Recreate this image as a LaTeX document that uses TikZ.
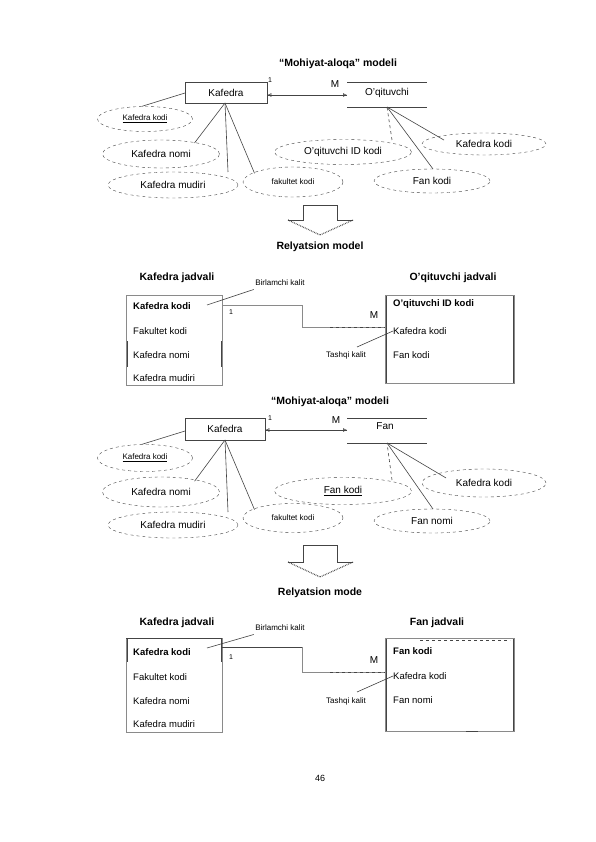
\documentclass[tikz,border=0pt]{standalone}
\usepackage{fontspec}
\setmainfont{Liberation Sans}
\usetikzlibrary{arrows.meta,shapes.geometric}
\definecolor{ln}{HTML}{444444}
\definecolor{tb}{HTML}{8A8A8A}
\tikzset{
  attr/.style={ellipse,draw=ln,dashed,inner sep=0pt,font=\fontsize{10}{12}\selectfont},
  small/.style={font=\fontsize{8}{10}\selectfont},
  lnk/.style={draw=ln,line width=0.6pt},
  title/.style={font=\bfseries\fontsize{10.5}{12}\selectfont},
  row/.style={anchor=west,inner sep=0pt,font=\fontsize{9.5}{11}\selectfont},
  tbox/.style={draw=tb,line width=0.6pt},
  ent/.style={draw=ln,line width=0.7pt,minimum width=82pt,minimum height=21pt,inner sep=0pt,font=\fontsize{10}{12}\selectfont},
  tip/.style={-{Latex[open,length=4pt,width=4pt]}},
  barrow/.style={draw=ln,line width=0.7pt},
}
\begin{document}
\begin{tikzpicture}[x=1pt,y=-1pt]
\useasboundingbox (0,0) rectangle (595,842);
\fill[white] (0,0) rectangle (595,842);

% ---------- Section 1 ----------
\node[title] (t1) at (338,64) {“Mohiyat-aloqa” modeli};
\node[ent] (kaf1) at (226,92.5) {Kafedra};
\node[inner sep=0pt,font=\fontsize{10}{12}\selectfont] (oq1) at (387,93) {O’qituvchi};
\draw[lnk] (347,82) -- (427,82) (347,107) -- (427,107);
\coordinate (oq1b) at (387,107);
\coordinate (oq1l) at (347,95);
\coordinate (kaf1b) at (225,103);
\coordinate (kaf1l) at (185,93);
\draw[lnk,tip] (oq1l) -- (kaf1.east|-oq1l);
\draw[lnk,tip] (kaf1.east|-oq1l) -- (oq1l);
\node[font=\fontsize{7}{8}\selectfont] (one1) at (270,80) {1};
\node[font=\fontsize{10}{12}\selectfont] (m1) at (335,84) {M};

\node[attr,small,minimum width=95pt,minimum height=25pt] (k1) at (145,119) {\underline{Kafedra kodi}};
\node[attr,minimum width=117pt,minimum height=28pt] (n1) at (161,154) {Kafedra nomi};
\node[attr,minimum width=130pt,minimum height=26pt] (md1) at (173,185) {Kafedra mudiri};
\node[attr,small,minimum width=100pt,minimum height=30pt] (f1) at (293,182) {fakultet kodi};
\node[attr,minimum width=137pt,minimum height=25pt] (o1) at (343,152) {O’qituvchi ID kodi};
\node[attr,minimum width=124pt,minimum height=22pt] (kr1) at (484,144) {Kafedra kodi};
\node[attr,minimum width=116pt,minimum height=24pt] (fk1) at (432,181) {Fan kodi};

\draw[lnk] (k1.north) ++(-3,0) -- (kaf1l);
\draw[lnk] (n1.north east) ++(-8,-1) -- (kaf1b);
\draw[lnk] (228,172) -- (kaf1b);
\draw[lnk] (f1.north west) ++(-3,2) -- (kaf1b);
\draw[lnk,dashed] (392,140) -- (oq1b);
\draw[lnk] (kr1.north west) ++(4,4) -- (oq1b);
\draw[lnk] (433,169) -- (oq1b);

% arrow 1
\draw[barrow] (288,220) -- (303,220) -- (303,205) -- (337,205) -- (337,220) -- (353,220);
\draw[barrow,densely dotted,line width=1.2pt] (288,220) -- (320,235) -- (353,220);
\node[title] (r1) at (320,247) {Relyatsion model};

% ---------- Section 2 ----------
\node[title] (kj1) at (177,278) {Kafedra jadvali};
\node[title] (oj1) at (453,278) {O’qituvchi jadvali};
\draw[tbox] (126,295) rectangle (222,385);
\node[row,font=\bfseries\fontsize{9.5}{11}\selectfont] (r11) at (133,306) {Kafedra kodi};
\node[row] (r12) at (133,331) {Fakultet kodi};
\node[row] (r13) at (133,355) {Kafedra nomi};
\node[row] (r14) at (133,378) {Kafedra mudiri};
\draw[lnk] (127,341) -- (127,367) (221,341) -- (221,367);
\draw[tbox] (385,295) rectangle (514,383);
\draw[lnk] (386,296) -- (386,383) (513,296) -- (513,383);
\node[row,font=\bfseries\fontsize{9.5}{11}\selectfont] (q11) at (393,304) {O’qituvchi ID kodi};
\node[row] (q12) at (393,331) {Kafedra kodi};
\node[row] (q13) at (393,355) {Fan kodi};
\coordinate (c2a) at (222,305);
\coordinate (c2b) at (385,327);
\draw[lnk,draw=tb] (c2a) -- (302,305) -- (302,327) -- (c2b);
\draw[lnk,dashed] (330,327) -- (c2b);
\node[font=\fontsize{10}{12}\selectfont] (mm2) at (374,315) {M};
\node[font=\fontsize{7}{8}\selectfont] (on2) at (231,312) {1};
\node[font=\fontsize{8}{10}\selectfont] (bk2) at (280,283) {Birlamchi kalit};
\draw[lnk] (bk2.south west) ++(2,0) -- (207,305);
\node[font=\fontsize{8}{10}\selectfont] (tk2) at (346,355) {Tashqi kalit};
\draw[lnk] (357,347) -- (q12.west);

% ---------- Section 3 ----------
\node[title] (t3) at (330,402) {“Mohiyat-aloqa” modeli};
\node[ent,minimum width=80pt,minimum height=22pt] (kaf3) at (225,429) {Kafedra};
\node[inner sep=0pt,font=\fontsize{10}{12}\selectfont] (fan3) at (385,426) {Fan};
\draw[lnk] (347,418) -- (427,418) (347,443) -- (427,443);
\coordinate (fan3b) at (387,443);
\coordinate (fan3l) at (347,430);
\coordinate (kaf3b) at (225,440);
\coordinate (kaf3l) at (185,431);
\draw[lnk,tip] (fan3l) -- (kaf3.east|-fan3l);
\draw[lnk,tip] (kaf3.east|-fan3l) -- (fan3l);
\node[font=\fontsize{7}{8}\selectfont] (one3) at (270,418) {1};
\node[font=\fontsize{10}{12}\selectfont] (m3) at (336,420) {M};

\node[attr,small,minimum width=95pt,minimum height=27pt] (k3) at (145,458) {\underline{Kafedra kodi}};
\node[attr,minimum width=117pt,minimum height=30pt] (n3) at (161,492) {Kafedra nomi};
\node[attr,minimum width=130pt,minimum height=26pt] (md3) at (173,525) {Kafedra mudiri};
\node[attr,small,minimum width=100pt,minimum height=29pt] (f3) at (293,518) {fakultet kodi};
\node[attr,minimum width=137pt,minimum height=27pt] (fk3) at (343,491) {\underline{Fan kodi}};
\node[attr,minimum width=124pt,minimum height=28pt] (kr3) at (484,483) {Kafedra kodi};
\node[attr,minimum width=116pt,minimum height=24pt] (fn3) at (432,521) {Fan nomi};

\draw[lnk] (k3.north) ++(-3,0) -- (kaf3l);
\draw[lnk] (n3.north east) ++(-8,0) -- (kaf3b);
\draw[lnk] (228,512) -- (kaf3b);
\draw[lnk] (f3.north west) ++(-3,2) -- (kaf3b);
\draw[lnk,dashed] (392,480) -- (fan3b);
\draw[lnk] (kr3.north west) ++(6,5) -- (fan3b);
\draw[lnk] (433,509) -- (fan3b);

% arrow 2
\draw[barrow] (288,562) -- (303,562) -- (303,545) -- (337,545) -- (337,562) -- (353,562);
\draw[barrow,densely dotted,line width=1.2pt] (288,562) -- (320,577) -- (353,562);
\node[title] (r3) at (320,593) {Relyatsion mode};

% ---------- Section 4 ----------
\node[title] (kj4) at (177,623) {Kafedra jadvali};
\node[title] (fj4) at (437,623) {Fan jadvali};
\draw[tbox] (126,638) rectangle (222,732);
\draw[lnk] (126,638) -- (222,638);
\draw[lnk] (127,639) -- (127,662) (221,639) -- (221,662);
\node[row,font=\bfseries\fontsize{9.5}{11}\selectfont] (r41) at (133,652) {Kafedra kodi};
\node[row] (r42) at (133,677) {Fakultet kodi};
\node[row] (r43) at (133,701) {Kafedra nomi};
\node[row] (r44) at (133,724) {Kafedra mudiri};
\draw[tbox] (385,638) rectangle (514,731);
\draw[lnk] (386,639) -- (386,731) (513,639) -- (513,731);
\draw[lnk,dashed,line width=1pt] (420,640) -- (510,640);
\draw[lnk,line width=1pt] (466,731) -- (478,731);
\node[row,font=\bfseries\fontsize{9.5}{11}\selectfont] (p41) at (393,651) {Fan kodi};
\node[row] (p42) at (393,676) {Kafedra kodi};
\node[row] (p43) at (393,700) {Fan nomi};
\coordinate (c4a) at (222,647);
\coordinate (c4b) at (385,672);
\draw[lnk,line width=1pt] (c4a) -- (302,647);
\draw[lnk,draw=tb] (302,647) -- (302,672) -- (c4b);
\draw[lnk,dashed] (330,672) -- (c4b);
\node[font=\fontsize{10}{12}\selectfont] (mm4) at (374,660) {M};
\node[font=\fontsize{7}{8}\selectfont] (on4) at (231,657) {1};
\node[font=\fontsize{8}{10}\selectfont] (bk4) at (280,628) {Birlamchi kalit};
\draw[lnk] (bk4.south west) ++(2,0) -- (207,648);
\node[font=\fontsize{8}{10}\selectfont] (tk4) at (346,701) {Tashqi kalit};
\draw[lnk] (357,692) -- (p42.west);

\node[font=\fontsize{9}{11}\selectfont] (pg) at (320,778) {46};
\end{tikzpicture}
\end{document}
